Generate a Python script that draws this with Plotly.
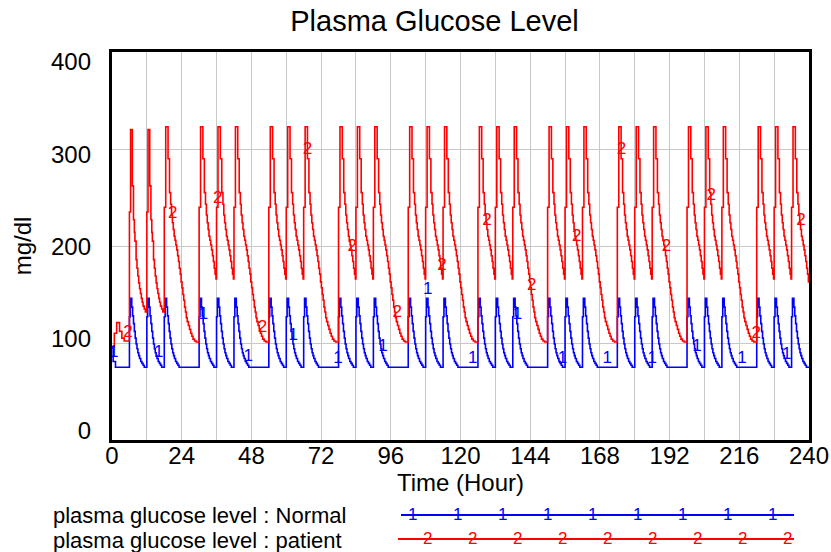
import bisect
import plotly.graph_objects as go

# ---------------- data ----------------
TITLE = "Plasma Glucose Level"
X_TITLE = "Time (Hour)"
Y_TITLE = "mg/dl"
SERIES_NAMES = ["plasma glucose level : Normal", "plasma glucose level : patient"]
SERIES_DIGITS = ["1", "2"]
X_TICKS = [0, 24, 48, 72, 96, 120, 144, 168, 192, 216, 240]
Y_TICKS = [0, 100, 200, 300, 400]

N_DAYS = 10
MEAL_HOURS = [6, 12, 18]          # meal times within each day (hours)

# Normal subject: hours after start / after each meal -> mg/dl
NORMAL_START_T = [0, 0.4, 1.2]
NORMAL_START_V = [95, 81, 75]
NORMAL_MEAL_T = [0, 0.3, 0.8, 1.1, 1.4, 1.7, 2.0, 2.3, 2.6, 2.9, 3.2, 3.5, 3.9, 4.3, 4.7, 5.1]
NORMAL_MEAL_V = [127, 146, 137, 128, 120, 112, 105, 99, 94, 90, 87, 84, 81, 79, 77, 75]

# Patient: first hours, first-day meals, later daytime meals, evening meal (overnight)
PATIENT_START_T = [0, 0.8, 1.6, 2.6, 3.4, 4.2]
PATIENT_START_V = [96, 110, 121, 112, 105, 102]
PATIENT_DAY1_T = [0, 0.4, 1.0, 1.4, 1.7, 1.9, 2.3, 2.6, 2.9, 3.2, 3.5, 3.8, 4.1, 4.4, 4.7, 5.1, 5.5]
PATIENT_DAY1_V = [235, 320, 262, 227, 214, 205, 186, 177, 169, 162, 156, 151, 146, 142, 138, 135, 132]
PATIENT_MEAL_T = [0, 0.5, 1.3, 1.8, 2.2, 2.5, 2.8, 3.1, 3.4, 3.7, 4.0, 4.3, 4.6, 4.9, 5.2, 5.5, 5.8]
PATIENT_MEAL_V = [240, 323, 290, 255, 243, 232, 224, 217, 210, 206, 201, 196, 190, 184, 177, 171, 166]
PATIENT_NIGHT_T = [0, 0.5, 1.3, 1.8, 2.2, 2.5, 2.8, 3.1, 3.4, 3.7, 4.0, 4.3, 4.6, 4.9, 5.2, 5.5,
                   5.8, 6.1, 6.4, 6.7, 7.0, 7.3, 7.6, 7.9, 8.3, 8.7, 9.1, 9.5, 9.9, 10.4, 11.0]
PATIENT_NIGHT_V = [240, 323, 290, 255, 243, 232, 224, 217, 210, 206, 201, 196, 190, 184, 177, 171,
                   163, 157, 150, 144, 137, 132, 126, 122, 118, 114, 110, 107, 104, 102, 101]

T_END = 240

# ---------------- build the series ----------------
def build(segments):
    ts, vs = [], []
    for start, T, V in segments:
        for t, v in zip(T, V):
            if start + t <= T_END:
                ts.append(start + t)
                vs.append(v)
    ts.append(T_END)
    vs.append(vs[-1])
    return ts, vs

normal_segments = [(0, NORMAL_START_T, NORMAL_START_V)]
patient_segments = [(0, PATIENT_START_T, PATIENT_START_V)]
for d in range(N_DAYS):
    for m in MEAL_HOURS:
        h = 24 * d + m
        normal_segments.append((h, NORMAL_MEAL_T, NORMAL_MEAL_V))
        if m == MEAL_HOURS[-1]:
            patient_segments.append((h, PATIENT_NIGHT_T, PATIENT_NIGHT_V))
        elif d == 0:
            patient_segments.append((h, PATIENT_DAY1_T, PATIENT_DAY1_V))
        else:
            patient_segments.append((h, PATIENT_MEAL_T, PATIENT_MEAL_V))

normal_t, normal_v = build(normal_segments)
patient_t, patient_v = build(patient_segments)

def value_at(ts, vs, h):
    i = bisect.bisect_right(ts, h) - 1
    return vs[max(i, 0)]

# ---------------- styling ----------------
FONT = "Liberation Sans, Arial, sans-serif"
BLUE = "rgb(0,0,255)"
RED = "rgb(255,0,0)"
GRID = "#c8c8c8"
W, H = 831, 552
L, R, T, B = 112, 809, 52, 440   # plot area in pixels

def px2x(px):
    return (px - L) / (R - L)

def py2y(py):
    return (B - py) / (B - T)

# marker (digit) positions along the curves, as Vensim draws them
MARK_STEP = 15.45
normal_mark_h = [0.6 + MARK_STEP * k for k in range(16) if 0.6 + MARK_STEP * k <= T_END]
patient_mark_h = [5.5 + MARK_STEP * k for k in range(16) if 5.5 + MARK_STEP * k <= T_END]

fig = go.Figure()
fig.add_trace(go.Scatter(x=normal_t, y=normal_v, mode="lines", line_shape="hv",
                         line=dict(color=BLUE, width=1.6), name=SERIES_NAMES[0],
                         showlegend=False, hoverinfo="skip"))
fig.add_trace(go.Scatter(x=patient_t, y=patient_v, mode="lines", line_shape="hv",
                         line=dict(color=RED, width=1.6), name=SERIES_NAMES[1],
                         showlegend=False, hoverinfo="skip"))
fig.add_trace(go.Scatter(x=normal_mark_h, y=[value_at(normal_t, normal_v, h) for h in normal_mark_h],
                         mode="text", text=[SERIES_DIGITS[0]] * len(normal_mark_h),
                         textposition="top center",
                         textfont=dict(family=FONT, size=17, color=BLUE),
                         showlegend=False, hoverinfo="skip"))
fig.add_trace(go.Scatter(x=patient_mark_h, y=[value_at(patient_t, patient_v, h) for h in patient_mark_h],
                         mode="text", text=[SERIES_DIGITS[1]] * len(patient_mark_h),
                         textposition="top center",
                         textfont=dict(family=FONT, size=17, color=RED),
                         showlegend=False, hoverinfo="skip"))
# empty trace to carry the tick-label axis
fig.add_trace(go.Scatter(x=[], y=[], yaxis="y2", showlegend=False))

# label axis range so labels are spread like the original (0 at 431px, 400 at 62px)
lab_scale = (431 - 62) / 400.0
y2_lo = -(B - 431) / lab_scale
y2_hi = 400 + (62 - T) / lab_scale

fig.update_layout(
    width=W, height=H,
    margin=dict(l=L, r=W - R, t=T, b=H - B, pad=0, autoexpand=False),
    paper_bgcolor="white", plot_bgcolor="white",
    font=dict(family=FONT, size=24, color="black"),
    title=dict(text=TITLE, x=434.5 / W, xanchor="center", xref="container",
               y=1 - 21 / H, yanchor="middle", yref="container",
               font=dict(family=FONT, size=29, color="black")),
    xaxis=dict(range=[0, T_END], tickvals=X_TICKS, ticktext=[str(v) for v in X_TICKS],
               automargin=False, ticklabelstandoff=-8,
               showgrid=True, gridcolor=GRID, gridwidth=1,
               minor=dict(dtick=12, tick0=0, showgrid=True, gridcolor=GRID, gridwidth=1, ticks=""),
               ticks="", showline=True, linecolor="black", linewidth=3, mirror=True,
               zeroline=False, tickfont=dict(family=FONT, size=24),
               title=dict(text=X_TITLE, standoff=0, font=dict(family=FONT, size=24))),
    yaxis=dict(range=[0, 400], tickvals=[100, 200, 300], showticklabels=False, automargin=False,
               showgrid=True, gridcolor=GRID, gridwidth=1, ticks="",
               showline=True, linecolor="black", linewidth=3, mirror=True, zeroline=False),
    yaxis2=dict(overlaying="y", side="left", range=[y2_lo, y2_hi], automargin=False,
                tickvals=Y_TICKS, ticktext=[str(v) for v in Y_TICKS],
                showgrid=False, showline=False, zeroline=False, ticks="",
                ticklabelstandoff=20, tickfont=dict(family=FONT, size=24),
                title=dict(text=Y_TITLE, standoff=12, font=dict(family=FONT, size=24))),
)

# ---------------- custom legend (text left, long sample line right) ----------------
legend_rows = [(515, 515, 401, 794, BLUE, [412 + 45.1 * k for k in range(9)]),
               (540, 539, 398, 794, RED, [427 + 45.0 * k for k in range(9)])]
for i, (ty, ly, x0, x1, col, digit_px) in enumerate(legend_rows):
    fig.add_annotation(x=px2x(52), y=py2y(ty), xref="paper", yref="paper",
                       text=SERIES_NAMES[i], showarrow=False, xanchor="left", yanchor="middle",
                       borderpad=0,
                       font=dict(family=FONT, size=22, color="black"))
    fig.add_shape(type="line", xref="paper", yref="paper",
                  x0=px2x(x0), x1=px2x(x1), y0=py2y(ly), y1=py2y(ly),
                  line=dict(color=col, width=2))
    for dx in digit_px:
        fig.add_annotation(x=px2x(dx), y=py2y(ly - 1), xref="paper", yref="paper",
                           text=SERIES_DIGITS[i], showarrow=False, xanchor="center", yanchor="middle",
                           borderpad=0,
                           font=dict(family=FONT, size=17, color=col))

fig.write_html("out.html", config={"displayModeBar": False},
               post_script="document.body.style.margin='0px';")
